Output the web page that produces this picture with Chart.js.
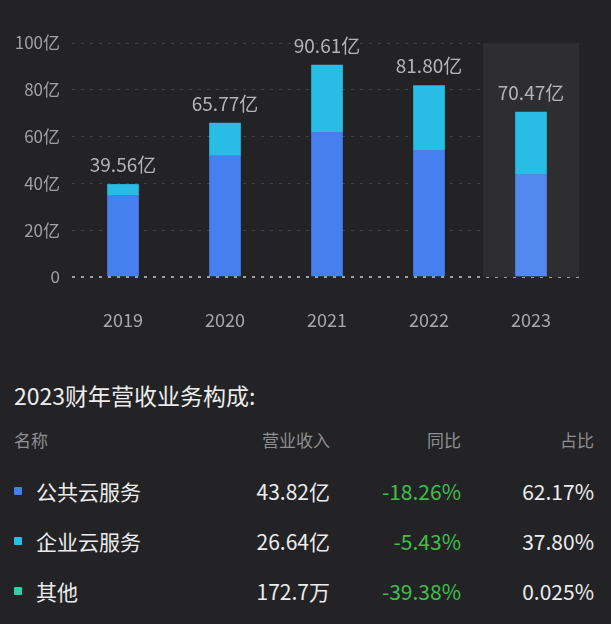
<!DOCTYPE html>
<html><head><meta charset="utf-8">
<script src="https://cdn.jsdelivr.net/npm/chart.js@4"></script>
<style>
body{margin:0;background:#232326;width:611px;height:624px;overflow:hidden;font-family:"Noto Sans CJK SC","Noto Sans",sans-serif;}
#wrap{position:absolute;left:0;top:0;}
.t{position:absolute;white-space:nowrap;}
.r{text-align:right;}
.sq{position:absolute;width:8px;height:8px;border-radius:1px;}
</style></head><body>
<div id="wrap"><canvas id="c" width="611" height="345"></canvas></div>
<script>
const years=['2019','2020','2021','2022','2023'];
const publicCloud=[34.9,51.9,61.8,54.1,43.82];
const totals=[39.56,65.77,90.61,81.80,70.47];
const enterpriseCloud=[4.66,13.87,28.81,27.70,26.65];
const yTicks=[0,20,40,60,80,100];
const tableRows=[
 ['公共云服务','43.82亿','-18.26%','62.17%','#4680ee'],
 ['企业云服务','26.64亿','-5.43%','37.80%','#29bde6'],
 ['其他','172.7万','-39.38%','0.025%','#2bd4a4']];

const bgPlugin={id:'bg',beforeDatasetsDraw(ch){const {ctx,chartArea:a,scales:{x}}=ch;const w=x.getPixelForValue(1)-x.getPixelForValue(0);const cx=x.getPixelForValue(4);ctx.save();ctx.fillStyle='#2e2e31';ctx.fillRect(cx-w*0.47,a.top,w*0.94,a.bottom-a.top);ctx.restore();}};
const lblPlugin={id:'lbl',afterDatasetsDraw(ch){const {ctx,scales:{x,y}}=ch;ctx.save();ctx.fillStyle='#b4b4b6';ctx.font='19px "Noto Sans CJK SC"';ctx.textAlign='center';ctx.textBaseline='bottom';totals.forEach((v,i)=>{ctx.fillText(v.toFixed(2)+'亿',x.getPixelForValue(i),y.getPixelForValue(v)-10);});ctx.restore();}};
new Chart(document.getElementById('c'),{type:'bar',
 data:{labels:years,datasets:[
  {data:publicCloud,backgroundColor:['#4680ee','#4680ee','#4680ee','#4680ee','#5289f1'],barThickness:31,stack:'s'},
  {data:enterpriseCloud,backgroundColor:'#29bde6',barThickness:31,stack:'s'}]},
 options:{responsive:false,animation:false,events:[],
  layout:{padding:{top:43,right:29}},
  plugins:{legend:{display:false},tooltip:{enabled:false}},
  scales:{
   x:{stacked:true,grid:{display:false},border:{display:false},
      ticks:{color:'#a8a8aa',font:{size:18,family:'Noto Sans CJK SC'},padding:24},
      afterFit(s){s.height=68;}},
   y:{stacked:true,min:0,max:100,afterBuildTicks(s){s.ticks=yTicks.map(v=>({value:v}));},
      border:{display:false,dash:[3,6]},
      grid:{color:c=>c.tick&&c.tick.value===0?'#a0a0a2':'#404044',lineWidth:c=>c.tick&&c.tick.value===0?2:1,drawTicks:false},
      ticks:{color:'#a0a0a2',font:{size:17,family:'Noto Sans CJK SC'},padding:12,callback:v=>v===0?'0':v+'亿'},
      afterFit(s){s.width=72;}}}},
 plugins:[bgPlugin,lblPlugin]});

const b=document.body;
function t(txt,x,y,size,color,right){const d=document.createElement('div');d.className='t'+(right?' r':'');d.textContent=txt;d.style.fontSize=size+'px';d.style.color=color;d.style.top=(y-size*0.72)+'px';if(right){d.style.right=(611-x)+'px';}else d.style.left=x+'px';b.appendChild(d);}
t('2023财年营收业务构成:',14,395,23,'#ececec');
t('名称',14,439,17,'#8e8e90');t('营业收入',330,439,17,'#8e8e90',1);t('同比',461,439,17,'#8e8e90',1);t('占比',594,439,17,'#8e8e90',1);
tableRows.forEach((r,i)=>{const y=491+i*50;const s=document.createElement('div');s.className='sq';s.style.background=r[4];s.style.left='14px';s.style.top=(y-4)+'px';b.appendChild(s);
 t(r[0],36,y,21,'#ececec');t(r[1],330,y,21,'#ececec',1);t(r[2],461,y,21,'#3fbf4a',1);t(r[3],594,y,21,'#ececec',1);});
</script></body></html>
